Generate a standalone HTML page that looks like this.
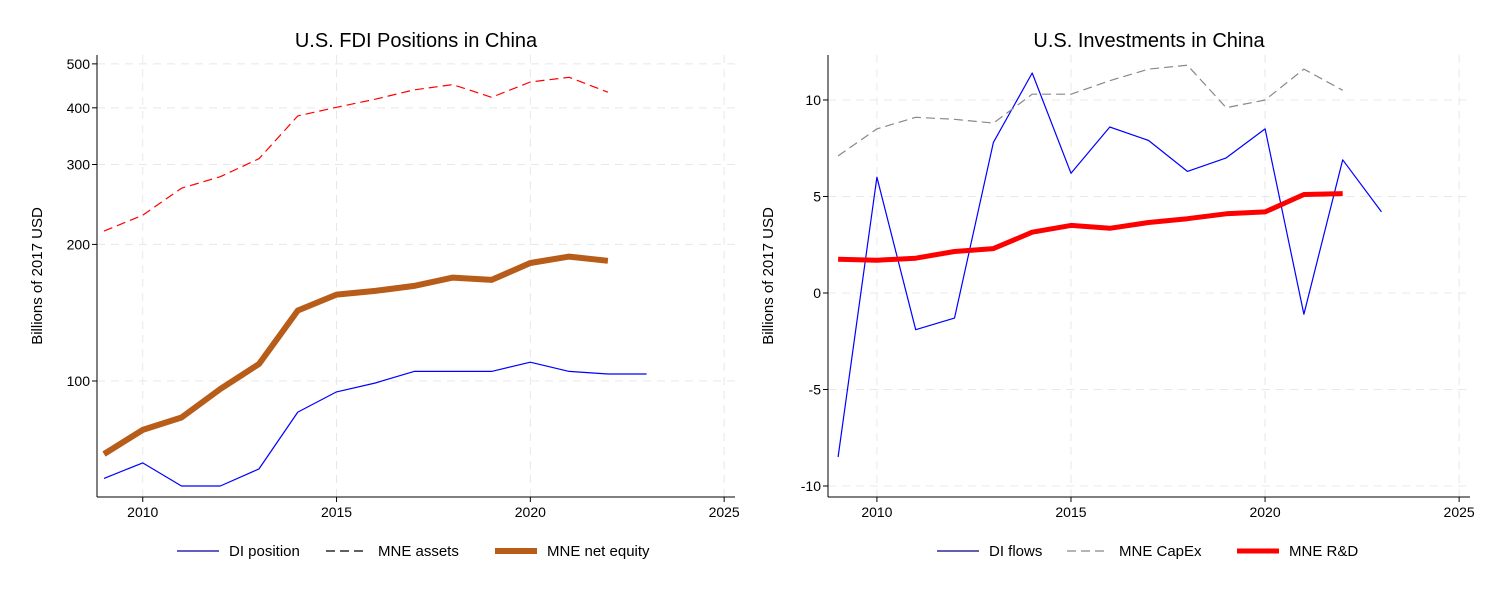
<!DOCTYPE html>
<html><head><meta charset="utf-8"><style>
body{margin:0;background:#fff;font-family:"Liberation Sans",Arial,sans-serif}
svg text{font-family:"Liberation Sans",Arial,sans-serif}
</style></head><body>
<svg id="s" width="1500" height="600" xmlns="http://www.w3.org/2000/svg"></svg>
<script>
const years=[2009,2010,2011,2012,2013,2014,2015,2016,2017,2018,2019,2020,2021,2022,2023];
const diPosition=[61,66,58.7,58.7,64,85.4,94.6,99,105,105,105,110,105,103.6,103.6];
const mneAssets=[214,232,266,282,309,384,401,418,438,450,422,456,467,433];
const mneNetEquity=[69,78,83.1,96,109,143,155,158,162,169,167,182,188,184];
const diFlows=[-8.5,6.0,-1.9,-1.3,7.8,11.4,6.2,8.6,7.9,6.3,7.0,8.5,-1.1,6.9,4.2];
const mneCapex=[7.1,8.5,9.1,9.0,8.8,10.3,10.3,11.0,11.6,11.8,9.6,10.0,11.6,10.5];
const mneRD=[1.75,1.7,1.8,2.15,2.3,3.15,3.5,3.35,3.65,3.85,4.1,4.2,5.1,5.15];
const xTicks=[2010,2015,2020,2025];
const leftYTicks=[100,200,300,400,500];
const rightYTicks=[-10,-5,0,5,10];

const NS="http://www.w3.org/2000/svg";
const svg=document.getElementById('s');
function mk(tag,attrs,parent){const e=document.createElementNS(NS,tag);for(const k in attrs)e.setAttribute(k,attrs[k]);(parent||svg).appendChild(e);return e;}

function panel(o){
  const g=mk('g',{});
  
  
  const X=v=>o.x0+(v-o.xmin)/(o.xmax-o.xmin)*(o.x1-o.x0);
  const Y=v=>{const t=o.tf(v);return o.y1-(t-o.tf(o.ymin))/(o.tf(o.ymax)-o.tf(o.ymin))*(o.y1-o.y0);};
  // grid
  o.yTicks.forEach(v=>{const l=mk('line',{x1:o.x0,x2:o.x1,y1:Y(v),y2:Y(v),stroke:'#e8e8e8','stroke-dasharray':'8,6'},g);
    });
  xTicks.forEach(v=>{const l=mk('line',{x1:X(v),x2:X(v),y1:o.y0,y2:o.y1,stroke:'#e8e8e8','stroke-dasharray':'8,6'},g);
    });
  // axes
  const ya=mk('line',{x1:o.x0,x2:o.x0,y1:o.y0,y2:o.y1,stroke:'#000'},g);
  
  const xa=mk('line',{x1:o.x0,x2:o.x1,y1:o.y1,y2:o.y1,stroke:'#000'},g);
  
  o.yTicks.forEach(v=>{mk('line',{x1:o.x0-5,x2:o.x0,y1:Y(v),y2:Y(v),stroke:'#000'},g);
    const t=mk('text',{x:o.x0-7,y:Y(v)+5,'text-anchor':'end','font-size':'14',fill:'#000'},g);t.textContent=v;
    });
  xTicks.forEach(v=>{mk('line',{x1:X(v),x2:X(v),y1:o.y1,y2:o.y1+5,stroke:'#000'},g);
    const t=mk('text',{x:X(v),y:o.y1+20,'text-anchor':'middle','font-size':'14',fill:'#000'},g);t.textContent=v;
    });
  const ti=mk('text',{x:(o.x0+o.x1)/2,y:47,'text-anchor':'middle','font-size':'20',fill:'#000'},g);ti.textContent=o.title;
  
  const yt=mk('text',{x:0,y:0,transform:`translate(${o.x0-55},${(o.y0+o.y1)/2}) rotate(-90)`,'text-anchor':'middle','font-size':'15',fill:'#000'},g);
  yt.textContent='Billions of 2017 USD';
  
  o.series.forEach(s=>{
    const pts=s.data.map((v,i)=>X(years[i]).toFixed(1)+','+Y(v).toFixed(1)).join(' ');
    const p=mk('polyline',{points:pts,fill:'none',stroke:s.color,'stroke-width':s.w,'stroke-dasharray':s.dash||'none','stroke-linejoin':'round'},g);
    
  });
  // legend
  o.series.forEach((s,i)=>{
    const lx=o.legX[i];
    const lg=mk('g',{},g);
    
    mk('line',{x1:lx,x2:lx+42,y1:551,y2:551,stroke:s.legColor||s.color,'stroke-width':s.w,'stroke-dasharray':s.dash||'none'},lg);
    const t=mk('text',{x:lx+52,y:556,'font-size':'15',fill:'#000'},lg);t.textContent=s.label;
  });
}
panel({name:'fdi-positions-chart',title:'U.S. FDI Positions in China',x0:97,x1:735,y0:55,y1:497,xmin:2008.82,xmax:2025.28,
  ymin:55.5,ymax:523,tf:Math.log,yTicks:leftYTicks,legX:[177,326,495],
  series:[{id:'line-di-position',label:'DI position',data:diPosition,color:'#0000ff',w:1.2,legColor:'#0000a0'},
          {id:'line-mne-assets',label:'MNE assets',data:mneAssets,color:'#ff0000',w:1.2,dash:'9,5',legColor:'#000'},
          {id:'line-mne-net-equity',label:'MNE net equity',data:mneNetEquity,color:'#b85c1a',w:6}]});
panel({name:'investments-chart',title:'U.S. Investments in China',x0:828,x1:1470,y0:55,y1:497,xmin:2008.74,xmax:2025.28,
  ymin:-10.57,ymax:12.33,tf:v=>v,yTicks:rightYTicks,legX:[937,1067,1237],
  series:[{id:'line-di-flows',label:'DI flows',data:diFlows,color:'#0000ff',w:1.2,legColor:'#000080'},
          {id:'line-mne-capex',label:'MNE CapEx',data:mneCapex,color:'#888',w:1.2,dash:'9,5'},
          {id:'line-mne-rd',label:'MNE R&D',data:mneRD,color:'#ff0000',w:5}]});
</script>
</body></html>
